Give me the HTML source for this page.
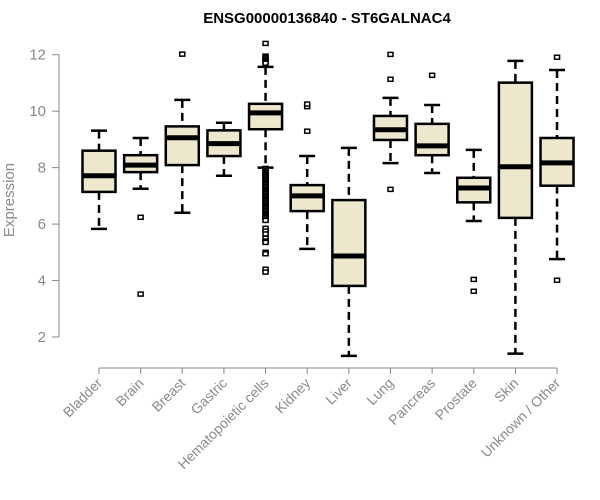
<!DOCTYPE html>
<html><head><meta charset="utf-8"><style>
body{margin:0;background:#fff}
svg{display:block;font-family:"Liberation Sans",Arial,sans-serif}
</style></head><body>
<svg id="chart" width="600" height="500">
<text x="327" y="23" text-anchor="middle" font-weight="bold" font-size="15">ENSG00000136840 - ST6GALNAC4</text>
<text transform="translate(14,200) rotate(-90)" text-anchor="middle" font-size="15" fill="#8a8a8a">Expression</text>
<g id="yaxis"></g>
<g id="xaxis"></g>
<g id="boxes"></g>
</svg>
<script>
const categories=["Bladder","Brain","Breast","Gastric","Hematopoietic cells","Kidney","Liver","Lung","Pancreas","Prostate","Skin","Unknown / Other"];
const lowWhisker=[5.83,7.25,6.40,7.71,8.0,5.12,1.33,8.16,7.81,6.11,1.41,4.76];
const q1=[7.14,7.84,8.09,8.41,9.36,6.46,3.81,8.98,8.44,6.77,6.22,7.36];
const median=[7.71,8.09,9.06,8.85,9.94,7.0,4.87,9.34,8.77,7.28,8.03,8.17];
const q3=[8.60,8.44,9.46,9.32,10.26,7.38,6.85,9.83,9.55,7.64,11.01,9.05];
const highWhisker=[9.31,9.05,10.4,9.59,11.57,8.41,8.70,10.47,10.22,8.63,11.78,11.46];
const outliers=[[],[6.24,3.52],[12.02],[],
[12.4,11.95,11.9,11.85,11.8,11.75,11.7,7.97,7.92,7.88,7.83,7.78,7.73,7.68,7.63,7.58,7.53,7.48,7.43,7.38,7.33,7.28,7.23,7.18,7.13,7.08,7.03,6.98,6.93,6.88,6.83,6.78,6.73,6.68,6.63,6.58,6.53,6.48,6.43,6.38,6.33,6.28,6.23,6.18,6.13,5.85,5.75,5.65,5.5,5.4,5.35,5.0,4.95,4.4,4.3],
[10.16,10.25,9.29],[],[12.01,11.13,7.23],[11.27],[4.04,3.62],[],[11.91,4.01]];
const yTicks=[2,4,6,8,10,12];
const NS="http://www.w3.org/2000/svg";
const yScale=v=>337-(v-2)*28.23;
const xScale=i=>99+i*41.64;
function mk(tag,attrs,parent){const e=document.createElementNS(NS,tag);for(const k in attrs)e.setAttribute(k,attrs[k]);parent.appendChild(e);return e;}
const ya=document.getElementById('yaxis'),xa=document.getElementById('xaxis'),bx=document.getElementById('boxes');
mk('line',{x1:59,x2:59,y1:yScale(2),y2:yScale(12),stroke:'#888'},ya);
yTicks.forEach(t=>{
 const l=mk('line',{x1:52,x2:59,y1:yScale(t),y2:yScale(t),stroke:'#888'},ya);
 
 
 const tx=mk('text',{x:46,y:yScale(t)+5,'text-anchor':'end','font-size':15,fill:'#8a8a8a'},ya);
 tx.textContent=t;
 
 
});
mk('line',{x1:xScale(0),x2:xScale(11),y1:368,y2:368,stroke:'#888'},xa);
categories.forEach((c,i)=>{
 const x=xScale(i);
 mk('line',{x1:x,x2:x,y1:368,y2:374,stroke:'#888'},xa);
 const tx=mk('text',{transform:`translate(${x+4},${384}) rotate(-45)`,'text-anchor':'end','font-size':14,fill:'#8a8a8a'},xa);
 tx.textContent=c;
 
 
 const g=mk('g',{},bx);
 
 
 const hw=16.5,cw=8;
 mk('line',{x1:x,x2:x,y1:yScale(highWhisker[i]),y2:yScale(q3[i]),stroke:'#000','stroke-width':2.5,'stroke-dasharray':'8,5'},g);
 mk('line',{x1:x,x2:x,y1:yScale(q1[i]),y2:yScale(lowWhisker[i]),stroke:'#000','stroke-width':2.5,'stroke-dasharray':'8,5'},g);
 mk('line',{x1:x-cw,x2:x+cw,y1:yScale(highWhisker[i]),y2:yScale(highWhisker[i]),stroke:'#000','stroke-width':2.5},g);
 mk('line',{x1:x-cw,x2:x+cw,y1:yScale(lowWhisker[i]),y2:yScale(lowWhisker[i]),stroke:'#000','stroke-width':2.5},g);
 mk('rect',{x:x-hw,y:yScale(q3[i]),width:2*hw,height:yScale(q1[i])-yScale(q3[i]),fill:'#ede7cd',stroke:'#000','stroke-width':2.5},g);
 mk('line',{x1:x-hw,x2:x+hw,y1:yScale(median[i]),y2:yScale(median[i]),stroke:'#000','stroke-width':5},g);
 outliers[i].forEach(v=>{
  const o=mk('rect',{x:x-2.5,y:yScale(v)-2,width:5,height:4,fill:'#fff',stroke:'#000','stroke-width':1.5},g);
  
  
 });
});
</script>
</body></html>
